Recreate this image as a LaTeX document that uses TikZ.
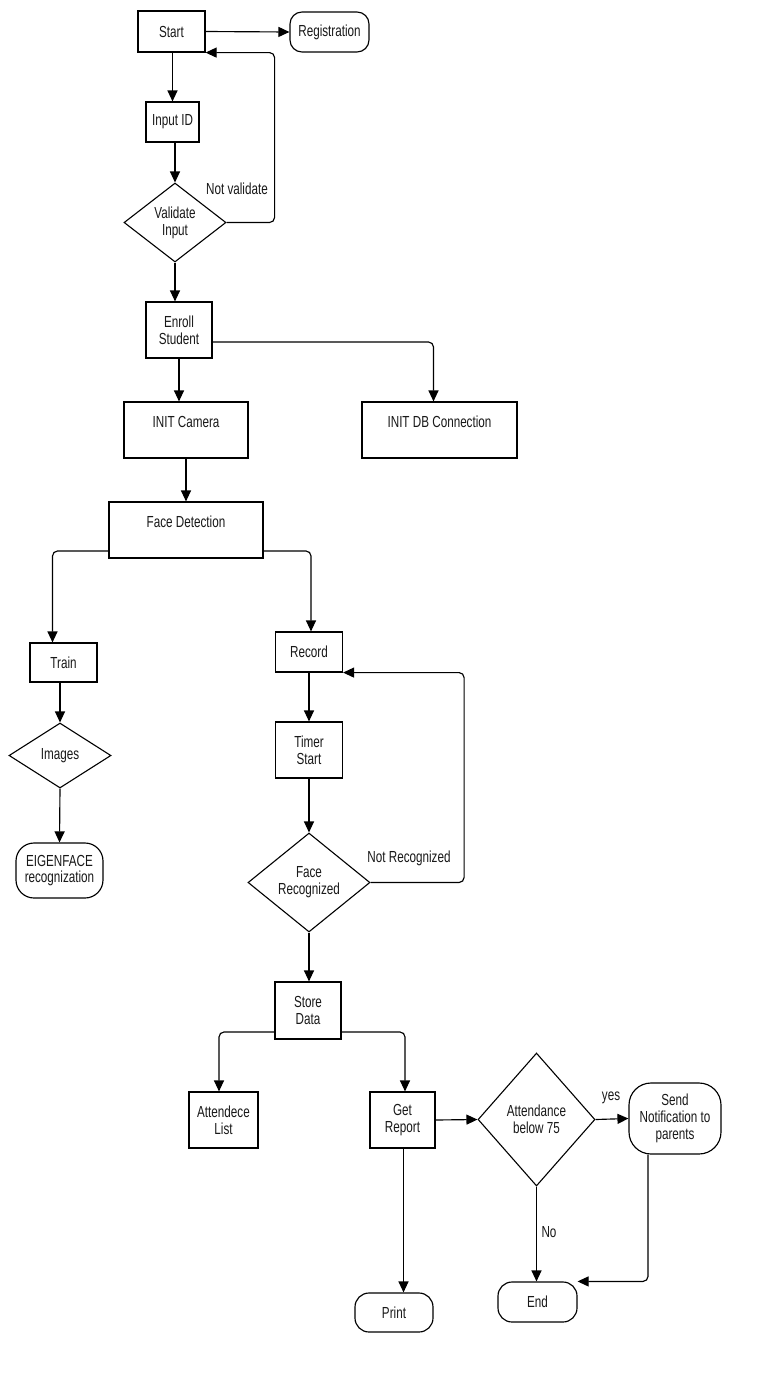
\documentclass[tikz,border=0pt]{standalone}
\usepackage{fontspec}
\setmainfont[FakeStretch=0.73]{Liberation Sans}
\usetikzlibrary{arrows.meta,shapes.geometric,calc}
\begin{document}
\begin{tikzpicture}[x=1pt,y=-1pt,
  every node/.style={font=\fontsize{16}{16.8}\selectfont, text=black!90},
  box/.style={draw=black, line width=1.15pt, rectangle, inner sep=0pt, align=center},
  rbox/.style={box, rounded corners=#1},
  dia/.style={draw=black, line width=1.1pt, diamond, inner sep=0pt, align=center},
  lbl/.style={inner sep=0pt},
  arr/.style={draw=black, line width=1.15pt, -{Triangle[length=11pt,width=10pt]}, rounded corners=5pt}]
\useasboundingbox (0,0) rectangle (757,1382);
\fill[white] (0,0) rectangle (757,1382);
% nodes
\node[box, minimum width=67, minimum height=41] (Start) at (171.5,31.5) {Start};
\node[rbox=12pt, minimum width=79, minimum height=40] (Reg) at (329.5,32) {Registration};
\node[box, minimum width=53, minimum height=40] (InputID) at (172.5,122) {Input ID};
\node[dia, minimum width=102, minimum height=79] (Validate) at (175,222.5) {Validate\\Input};
\node[box, minimum width=66, minimum height=56] (Enroll) at (179,330) {Enroll\\Student};
\node[box, minimum width=124, minimum height=56] (Camera) at (186,430) {INIT Camera\\ \mbox{}};
\node[box, minimum width=155, minimum height=56] (DB) at (439.5,430) {INIT DB Connection\\ \mbox{}};
\node[box, minimum width=154, minimum height=56] (FaceDet) at (186,530) {Face Detection\\ \mbox{}};
\node[box, minimum width=67, minimum height=39] (Train) at (63.5,662.5) {Train};
\node[dia, minimum width=102, minimum height=65] (Images) at (60,755.5) {Images};
\node[rbox=18pt, minimum width=87, minimum height=55] (Eigen) at (59.5,870.5) {EIGENFACE\\recognization};
\node[box, minimum width=67, minimum height=40] (Record) at (309,652) {Record};
\node[box, minimum width=67, minimum height=56] (Timer) at (309,750) {Timer\\Start};
\node[dia, minimum width=122, minimum height=99] (FaceRec) at (309,882.5) {Face\\Recognized};
\node[box, minimum width=66, minimum height=57] (Store) at (308,1010.5) {Store\\Data};
\node[box, minimum width=69, minimum height=56] (Attend) at (223.5,1120) {Attendece\\List};
\node[box, minimum width=65, minimum height=56] (Report) at (402.5,1120) {Get\\Report};
\node[dia, minimum width=117, minimum height=133] (AttDia) at (536.5,1119.5) {Attendance\\below 75};
\node[rbox=22pt, minimum width=92, minimum height=71] (Send) at (675,1118.5) {Send\\Notification to\\parents};
\node[rbox=14pt, minimum width=79, minimum height=40] (End) at (537.5,1302) {End};
\node[rbox=14pt, minimum width=78, minimum height=39] (Print) at (394,1312.5) {Print};
% labels
\node[lbl] (lNotVal) at (237,189) {Not validate};
\node[lbl] (lNotRec) at (409,858) {Not Recognized};
\node[lbl] (lYes) at (611,1098) {yes};
\node[lbl] (lNo) at (549,1232) {No};
% helper coordinates
\coordinate (repOut) at ($(Report.south)+(1,0)$);
% connectors
\draw[arr] (Start.east) -- (Reg.west);
\draw[arr] (Start.south -| InputID) -- (InputID.north);
\draw[arr] (InputID.south -| Validate) -- (Validate.north);
\draw[arr] (Validate.east) -| ($(Start.south east)+(69,0)$) -- (Start.south east);
\draw[arr] (Validate.south) -- (Validate.south |- Enroll.north);
\draw[arr] (Enroll.south) -- (Enroll.south |- Camera.north);
\draw[arr] ($(Enroll.east)+(0,12)$) -| ($(DB.north)+(-6,0)$);
\draw[arr] (Camera.south) -- (FaceDet.north);
\draw[arr] ($(FaceDet.west)+(0,21)$) -| ($(Train.north)+(-11,0)$);
\draw[arr] ($(FaceDet.east)+(0,21)$) -| ($(Record.north)+(2,0)$);
\draw[arr] (Train.south -| Images) -- (Images.north);
\draw[arr] (Images.south) -- (Eigen.north);
\draw[arr] (Record.south) -- (Timer.north);
\draw[arr] (Timer.south) -- (FaceRec.north);
\draw[arr] (FaceRec.east) -| ($(Record.south east)+(121,0)$) -- (Record.south east);
\draw[arr] (FaceRec.south) -- (FaceRec.south |- Store.north);
\draw[arr] ($(Store.west)+(0,21.5)$) -| ($(Attend.north)+(-4.5,0)$);
\draw[arr] ($(Store.east)+(0,21.5)$) -| ($(Report.north)+(2.5,0)$);
\draw[arr] (Report.east) -- (AttDia.west);
\draw[arr] (AttDia.east) -- (Send.west);
\draw[arr] (AttDia.south) -- (AttDia.south |- End.north);
\draw[arr] ($(Send.south)+(-27,0)$) |- (End.north east);
\draw[arr] (repOut) -- (repOut |- Print.north);
\end{tikzpicture}
\end{document}
